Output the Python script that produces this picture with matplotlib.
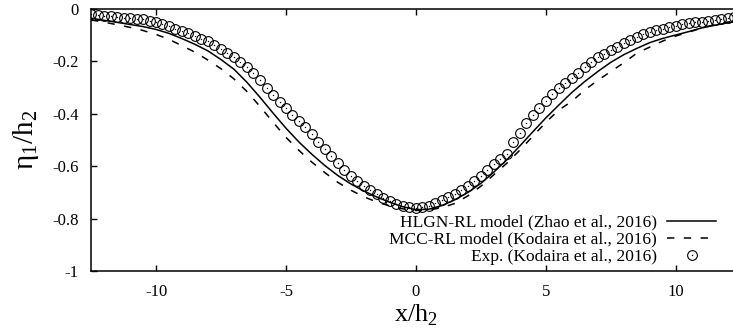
import numpy as np
import matplotlib
matplotlib.use("Agg")
import matplotlib.pyplot as plt
from matplotlib.ticker import FormatStrFormatter

##### Data #####
x_model = [-12.5, -12.0, -11.5, -11.0, -10.5, -10.0, -9.5, -9.0, -8.5, -8.0,
           -7.5, -7.0, -6.5, -6.0, -5.5, -5.0, -4.5, -4.0, -3.5, -3.0,
           -2.5, -2.0, -1.5, -1.0, -0.5, 0.0, 0.5, 1.0, 1.5, 2.0,
           2.5, 3.0, 3.5, 4.0, 4.5, 5.0, 5.5, 6.0, 6.5, 7.0,
           7.5, 8.0, 8.5, 9.0, 9.5, 10.0, 10.5, 11.0, 11.5, 12.0, 12.5]

eta_hlgn = [-0.035, -0.043, -0.051, -0.059, -0.067, -0.078, -0.093, -0.113, -0.135, -0.160,
            -0.193, -0.230, -0.280, -0.337, -0.397, -0.455, -0.508, -0.555, -0.598, -0.636,
            -0.668, -0.695, -0.718, -0.738, -0.755, -0.766, -0.764, -0.750, -0.728, -0.700,
            -0.665, -0.622, -0.575, -0.522, -0.468, -0.415, -0.366, -0.318, -0.276, -0.238,
            -0.203, -0.174, -0.150, -0.128, -0.112, -0.099, -0.086, -0.072, -0.062, -0.052, -0.046]

eta_mcc = [-0.042, -0.050, -0.060, -0.070, -0.082, -0.097, -0.116, -0.140, -0.165, -0.195,
           -0.228, -0.267, -0.315, -0.372, -0.432, -0.490, -0.540, -0.585, -0.625, -0.662,
           -0.692, -0.717, -0.737, -0.752, -0.763, -0.769, -0.767, -0.758, -0.742, -0.713,
           -0.676, -0.632, -0.588, -0.538, -0.485, -0.432, -0.385, -0.352, -0.308, -0.272,
           -0.238, -0.205, -0.168, -0.145, -0.122, -0.103, -0.088, -0.072, -0.060, -0.050, -0.043]

x_exp = [-12.5, -12.25, -12.0, -11.75, -11.5, -11.25, -11.0, -10.75, -10.5, -10.25,
         -10.0, -9.75, -9.5, -9.25, -9.0, -8.75, -8.5, -8.25, -8.0, -7.75,
         -7.5, -7.25, -7.0, -6.75, -6.5, -6.25, -6.0, -5.75, -5.5, -5.25,
         -5.0, -4.75, -4.5, -4.25, -4.0, -3.75, -3.5, -3.25, -3.0, -2.75,
         -2.5, -2.25, -2.0, -1.75, -1.5, -1.25, -1.0, -0.75, -0.5, -0.25,
         0.0, 0.25, 0.5, 0.75, 1.0, 1.25, 1.5, 1.75, 2.0, 2.25,
         2.5, 2.75, 3.0, 3.25, 3.5, 3.75, 4.0, 4.25, 4.5, 4.75,
         5.0, 5.25, 5.5, 5.75, 6.0, 6.25, 6.5, 6.75, 7.0, 7.25,
         7.5, 7.75, 8.0, 8.25, 8.5, 8.75, 9.0, 9.25, 9.5, 9.75,
         10.0, 10.25, 10.5, 10.75, 11.0, 11.25, 11.5, 11.75, 12.0, 12.25]

eta_exp = [-0.020, -0.023, -0.025, -0.028, -0.030, -0.033, -0.035, -0.038, -0.040, -0.044,
           -0.050, -0.057, -0.066, -0.075, -0.084, -0.093, -0.103, -0.113, -0.124, -0.137,
           -0.152, -0.168, -0.184, -0.202, -0.222, -0.244, -0.270, -0.301, -0.329, -0.354,
           -0.379, -0.403, -0.428, -0.452, -0.478, -0.506, -0.535, -0.562, -0.589, -0.613,
           -0.636, -0.656, -0.675, -0.691, -0.707, -0.721, -0.733, -0.743, -0.751, -0.756,
           -0.758, -0.756, -0.750, -0.741, -0.730, -0.718, -0.705, -0.690, -0.674, -0.656,
           -0.636, -0.614, -0.592, -0.572, -0.553, -0.508, -0.472, -0.436, -0.405, -0.379,
           -0.353, -0.326, -0.302, -0.281, -0.262, -0.243, -0.222, -0.202, -0.185, -0.170,
           -0.156, -0.144, -0.131, -0.119, -0.108, -0.097, -0.088, -0.081, -0.075, -0.069,
           -0.064, -0.059, -0.055, -0.051, -0.048, -0.045, -0.042, -0.038, -0.034, -0.031]

x_ticks = [-10, -5, 0, 5, 10]
y_ticks = [0, -0.2, -0.4, -0.6, -0.8, -1]

plt.rcParams["font.family"] = "Liberation Serif"
plt.rcParams["mathtext.fontset"] = "custom"
plt.rcParams["mathtext.rm"] = "Liberation Serif"
plt.rcParams["axes.unicode_minus"] = False

fig = plt.figure(figsize=(7.33, 3.33), dpi=100)
# right border of the plot is cut off in the original picture
ax = fig.add_axes([91/733, 62/333, 650/733, 262/333])

ax.plot(x_model, eta_hlgn, 'k-', lw=1.1, label="HLGN-RL model (Zhao et al., 2016)")
ax.plot(x_model, eta_mcc, 'k--', lw=1.1, dashes=(4.8, 6.2),
        label="MCC-RL model (Kodaira et al., 2016)")
circ, = ax.plot(x_exp, eta_exp, 'o', mfc='none', mec='k', mew=0.8, ms=7)
dots, = ax.plot(x_exp, eta_exp, 'o', color='k', ms=1.0, mew=0)

ax.set_xlim(-12.5, 12.5)
ax.set_ylim(-1, 0)
ax.set_xticks(x_ticks)
ax.set_yticks(y_ticks)
ax.xaxis.set_major_formatter(FormatStrFormatter('%g'))
ax.yaxis.set_major_formatter(FormatStrFormatter('%g'))
ax.tick_params(direction='in', length=4, width=1, labelsize=12, pad=9,
               top=True, right=False)
for s in ax.spines.values():
    s.set_linewidth(1.1)

ax.set_xlabel("x/h$_2$", fontsize=19, labelpad=2)
ax.set_ylabel("η$_1$/h$_2$", fontsize=21, labelpad=8)

h, l = ax.get_legend_handles_labels()
h.append((circ, dots))
l.append("Exp. (Kodaira et al., 2016)")
ax.legend(h, l, loc='lower right', bbox_to_anchor=(728/733, 56/333),
          bbox_transform=fig.transFigure, frameon=False, fontsize=12.5,
          markerfirst=False, handlelength=2.8, labelspacing=0.05,
          handletextpad=0.6, borderpad=0.2)

plt.savefig('out.png', dpi=100)
